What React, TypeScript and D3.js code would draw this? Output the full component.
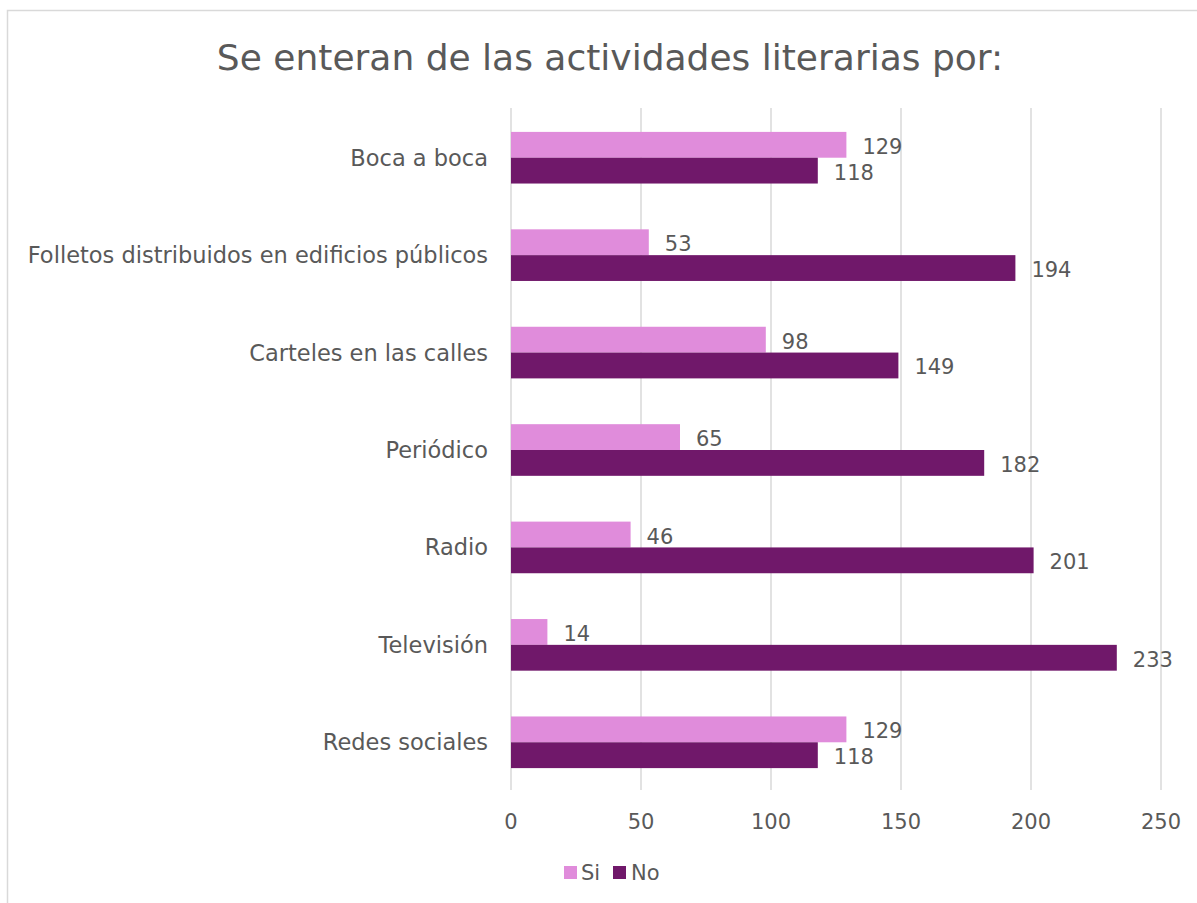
import React from "react";
import * as d3 from "d3";

const categories = [
  "Boca a boca",
  "Folletos distribuidos en edificios públicos",
  "Carteles en las calles",
  "Periódico",
  "Radio",
  "Televisión",
  "Redes sociales",
];
const siValues = [129, 53, 98, 65, 46, 14, 129];
const noValues = [118, 194, 149, 182, 201, 233, 118];
const seriesNames = ["Si", "No"];
const xTicks = [0, 50, 100, 150, 200, 250];
const title = "Se enteran de las actividades literarias por:";

const W = 1197;
const H = 903;
const FONT = "'DejaVu Sans', sans-serif";
const TEXT = "#595959";
const COLORS = ["#E08CDB", "#70186A"];

export default function App() {
  const x = d3.scaleLinear().domain([0, 250]).range([511, 1161]);
  const y = d3
    .scaleBand<string>()
    .domain(categories)
    .range([109, 791])
    .paddingInner(0.47)
    .paddingOuter(0.235);
  const inner = d3
    .scaleBand<string>()
    .domain(seriesNames)
    .range([0, y.bandwidth()]);
  const series = [siValues, noValues];

  return (
    <div style={{ position: "absolute", left: 0, top: 0 }}>
      <svg width={W} height={H} style={{ display: "block" }}>
        <rect x={7.5} y={10.5} width={W + 20} height={H + 20} fill="#fff" stroke="#D9D9D9" strokeWidth={1.5} />
        <text x={610} y={70} textAnchor="middle" fontFamily={FONT} fontSize={36} fill={TEXT}>
          {title}
        </text>
        {xTicks.map((t) => (
          <line key={t} x1={x(t)} x2={x(t)} y1={108} y2={790} stroke="#D9D9D9" strokeWidth={1.5} />
        ))}
        {xTicks.map((t) => (
          <text key={"t" + t} x={x(t)} y={829} textAnchor="middle" fontFamily={FONT} fontSize={21} fill={TEXT}>
            {t}
          </text>
        ))}
        {categories.map((c) => (
          <text
            key={"c" + c}
            x={488}
            y={(y(c) as number) + y.bandwidth() / 2 + 8}
            textAnchor="end"
            fontFamily={FONT}
            fontSize={22.5}
            fill={TEXT}
          >
            {c}
          </text>
        ))}
        {series.map((vals, si) =>
          categories.map((c, i) => {
            const y0 = (y(c) as number) + (inner(seriesNames[si]) as number);
            return (
              <g key={si + "-" + i}>
                <rect x={x(0)} y={y0} width={x(vals[i]) - x(0)} height={inner.bandwidth()} fill={COLORS[si]} />
                <text
                  x={x(vals[i]) + 16}
                  y={y0 + inner.bandwidth() / 2 + 9}
                  fontFamily={FONT}
                  fontSize={21}
                  fill={TEXT}
                >
                  {vals[i]}
                </text>
              </g>
            );
          })
        )}
        <g>
          <rect x={564} y={866} width={13} height={13} fill={COLORS[0]} />
          <text x={581} y={880} fontFamily={FONT} fontSize={21} fill={TEXT}>
            {seriesNames[0]}
          </text>
          <rect x={613} y={866} width={13} height={13} fill={COLORS[1]} />
          <text x={631} y={880} fontFamily={FONT} fontSize={21} fill={TEXT}>
            {seriesNames[1]}
          </text>
        </g>
      </svg>
    </div>
  );
}
